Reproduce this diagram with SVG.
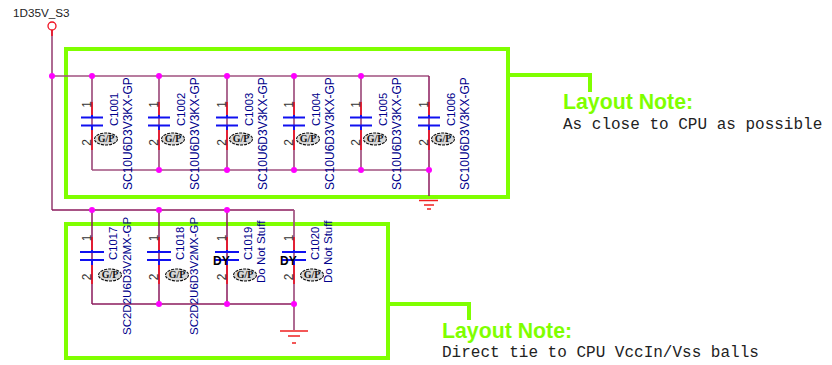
<svg xmlns="http://www.w3.org/2000/svg" width="832" height="365" viewBox="0 0 832 365">
<style>
text{font-family:"Liberation Sans",Arial,sans-serif}
.w{fill:none;stroke:#a0507f;stroke-width:1.7}
.wd{fill:none;stroke:#8b1a5c;stroke-width:1.5}
.r{fill:none;stroke:#f01020;stroke-width:1.6}
.b{fill:none;stroke:#1010f0;stroke-width:1.9}
.dot{fill:#ff00ff}
.pin{font-size:12px;fill:#333;text-anchor:middle}
.ref{font-size:11.3px;fill:#00008b}
.val{font-size:12px;fill:#00008b}
.val2{font-size:11.5px;fill:#00008b}
.gp{fill:#d8d8d8;stroke:#111;stroke-width:1.1;stroke-dasharray:3 1}
.gpt{font-family:"Liberation Serif",serif;font-size:10px;font-weight:bold;fill:#111;text-anchor:middle}
.dy{font-size:12px;font-weight:bold;fill:#000}
.box{fill:none;stroke:#7fff00;stroke-width:4}
.note{font-size:21.3px;font-weight:bold;fill:#7fff00}
.mono{font-family:"Liberation Mono",monospace;font-size:16px;fill:#222}
.gnd{fill:none;stroke:#f02020;stroke-width:1.3}
</style>
<defs>
<g id="gp"><ellipse class="gp" cx="0" cy="0" rx="11.5" ry="6"/><text class="gpt" x="0" y="3.3">G/P</text></g>
<g id="capT"><path class="r" d="M0 102V115M0 130V150"/><path class="b" d="M-11 117.5H11M-11 125.5H11M0 115V117.5M0 125.5V130"/><text class="pin" transform="translate(-1,104.5) rotate(-90)">1</text><text class="pin" transform="translate(-1,142.5) rotate(-90)">2</text></g>
<g id="capB"><path class="r" d="M0 237V250M0 265V284"/><path class="b" d="M-12 252H12M-12 260H12M0 250V252M0 260V265"/><text class="pin" transform="translate(-1,238) rotate(-90)">1</text><text class="pin" transform="translate(-1,277) rotate(-90)">2</text></g>
</defs>

<g id="note-1">
<rect class="box" x="66" y="49" width="442" height="148"/>
<path class="box" d="M508 75H590V92"/>
<text class="note" x="563" y="109">Layout Note:</text>
<text class="mono" x="563" y="129">As close to CPU as possible</text>
</g>
<g id="note-2">
<rect class="box" x="66" y="224" width="322" height="134"/>
<path class="box" d="M388 304H469V320"/>
<text class="note" x="442" y="338">Layout Note:</text>
<text class="mono" x="442" y="357">Direct tie to CPU VccIn/Vss balls</text>
</g>

<g id="connectors">
<path class="w" d="M52 30V210"/>
<path class="w" d="M52 76H429"/>
<path class="w" d="M92 76V170M159 76V170M227 76V170M294 76V170M361 76V170"/>
<path class="wd" d="M429 76V196"/>
<path class="w" d="M92 170H429"/>
<path class="wd" d="M52 210H294"/>
<path class="wd" d="M92 210V304M159 210V304M227 210V304"/>
<path class="w" d="M294 210V330"/>
<path class="wd" d="M92 304H294"/>
<path class="r" d="M52 30V36"/>
<circle class="dot" cx="52" cy="76" r="3"/>
<circle class="dot" cx="92" cy="76" r="3"/><circle class="dot" cx="159" cy="76" r="3"/><circle class="dot" cx="227" cy="76" r="3"/><circle class="dot" cx="294" cy="76" r="3"/><circle class="dot" cx="361" cy="76" r="3"/>
<circle class="dot" cx="159" cy="170" r="3"/><circle class="dot" cx="227" cy="170" r="3"/><circle class="dot" cx="294" cy="170" r="3"/><circle class="dot" cx="361" cy="170" r="3"/><circle class="dot" cx="429" cy="170" r="3"/>
<circle class="dot" cx="92" cy="210" r="3"/><circle class="dot" cx="159" cy="210" r="3"/><circle class="dot" cx="227" cy="210" r="3"/>
<circle class="dot" cx="159" cy="304" r="3"/><circle class="dot" cx="227" cy="304" r="3"/><circle class="dot" cx="294" cy="304" r="3"/>
</g>

<g id="power-1D35V_S3">
<circle cx="52" cy="26" r="4" fill="#fff" stroke="#f01020" stroke-width="1.3"/>
<text x="13" y="17" font-size="11.7" fill="#222">1D35V_S3</text>
</g>

<g id="C1001" transform="translate(92,0)"><use href="#capT"/><use href="#gp" x="14" y="139"/><text class="ref" transform="translate(26,126) rotate(-90)">C1001</text><text class="val" transform="translate(40,190) rotate(-90)">SC10U6D3V3KX-GP</text></g>
<g id="C1002" transform="translate(159,0)"><use href="#capT"/><use href="#gp" x="14" y="139"/><text class="ref" transform="translate(26,126) rotate(-90)">C1002</text><text class="val" transform="translate(40,190) rotate(-90)">SC10U6D3V3KX-GP</text></g>
<g id="C1003" transform="translate(227,0)"><use href="#capT"/><use href="#gp" x="14" y="139"/><text class="ref" transform="translate(26,126) rotate(-90)">C1003</text><text class="val" transform="translate(40,190) rotate(-90)">SC10U6D3V3KX-GP</text></g>
<g id="C1004" transform="translate(294,0)"><use href="#capT"/><use href="#gp" x="14" y="139"/><text class="ref" transform="translate(26,126) rotate(-90)">C1004</text><text class="val" transform="translate(40,190) rotate(-90)">SC10U6D3V3KX-GP</text></g>
<g id="C1005" transform="translate(361,0)"><use href="#capT"/><use href="#gp" x="14" y="139"/><text class="ref" transform="translate(26,126) rotate(-90)">C1005</text><text class="val" transform="translate(40,190) rotate(-90)">SC10U6D3V3KX-GP</text></g>
<g id="C1006" transform="translate(429,0)"><use href="#capT"/><use href="#gp" x="14" y="139"/><text class="ref" transform="translate(26,126) rotate(-90)">C1006</text><text class="val" transform="translate(40,190) rotate(-90)">SC10U6D3V3KX-GP</text></g>

<g id="C1017" transform="translate(92,0)"><use href="#capB"/><use href="#gp" x="18" y="275"/><text class="ref" transform="translate(25,260) rotate(-90)">C1017</text><text class="val2" transform="translate(39,335) rotate(-90)">SC2D2U6D3V2MX-GP</text></g>
<g id="C1018" transform="translate(159,0)"><use href="#capB"/><use href="#gp" x="18" y="275"/><text class="ref" transform="translate(25,260) rotate(-90)">C1018</text><text class="val2" transform="translate(39,335) rotate(-90)">SC2D2U6D3V2MX-GP</text></g>
<g id="C1019" transform="translate(227,0)"><use href="#capB"/><use href="#gp" x="18" y="275"/><text class="ref" transform="translate(25,260) rotate(-90)">C1019</text><text class="val2" transform="translate(38,283) rotate(-90)">Do Not Stuff</text><text class="dy" x="-14" y="265">DY</text></g>
<g id="C1020" transform="translate(294,0)"><use href="#capB"/><use href="#gp" x="18" y="275"/><text class="ref" transform="translate(25,260) rotate(-90)">C1020</text><text class="val2" transform="translate(38,283) rotate(-90)">Do Not Stuff</text><text class="dy" x="-14" y="265">DY</text></g>

<g id="gnd-1"><path class="gnd" d="M419 200.5H438M424 205H434M427 209H431"/></g>
<g id="gnd-2"><path class="gnd" d="M280 331H308M288 336H300M292 343H296"/></g>
</svg>
